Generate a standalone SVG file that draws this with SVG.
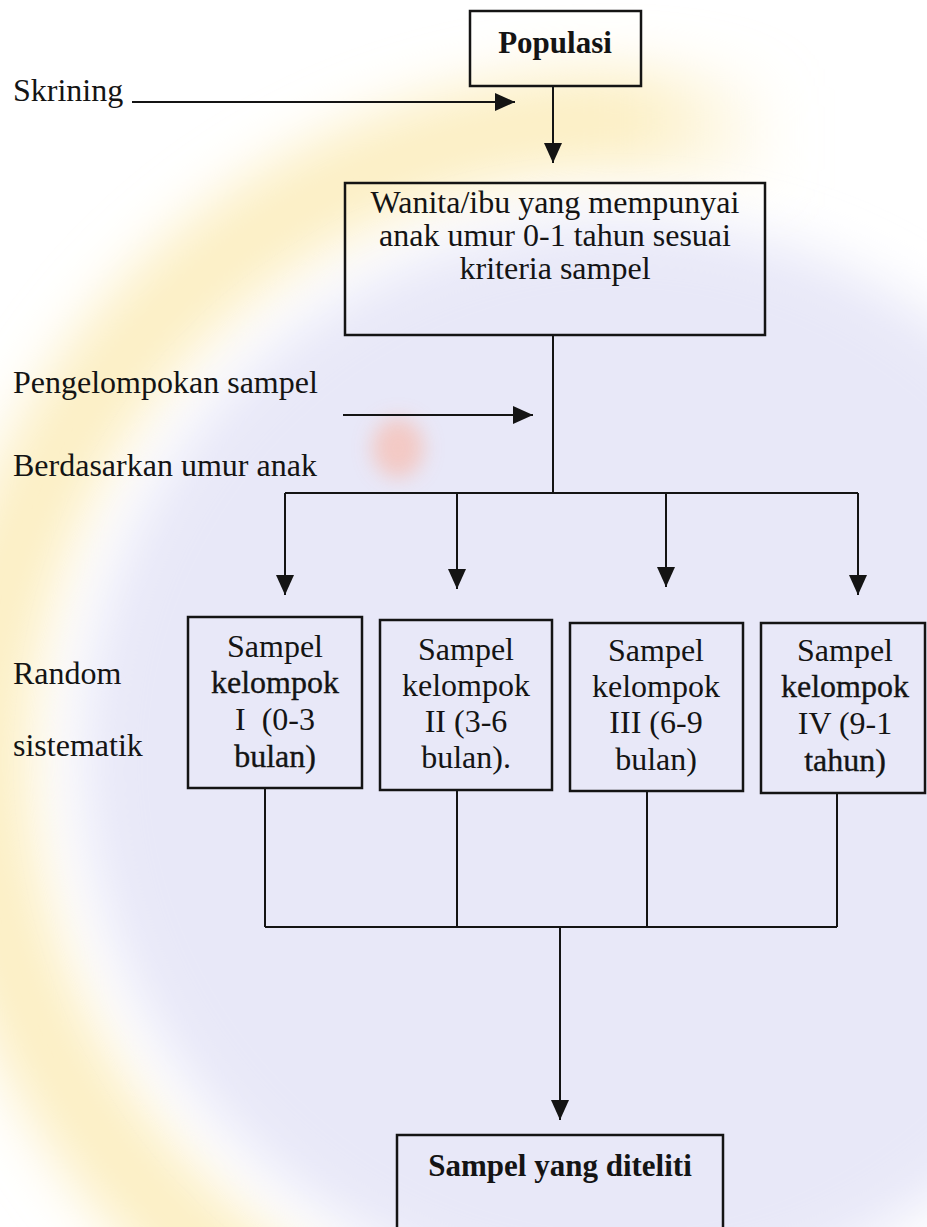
<svg xmlns="http://www.w3.org/2000/svg" width="927" height="1227" viewBox="0 0 927 1227">
<defs>
<style>
.t{font-family:"Liberation Serif","Times New Roman",serif;font-size:32px;fill:#141414;}
.c{text-anchor:middle;}
.b{font-weight:bold;font-size:31px;}
.dk{stroke:#141414;stroke-width:0.35px;}
.box{fill:none;stroke:#141414;stroke-width:2.5;}
.ln{fill:none;stroke:#141414;stroke-width:2;}
</style>
<marker id="ah" markerUnits="userSpaceOnUse" markerWidth="20" markerHeight="20" refX="20" refY="9" orient="auto">
<path d="M0,0 L20,9 L0,18 Z" fill="#141414"/>
</marker>
<linearGradient id="yl" gradientUnits="userSpaceOnUse" x1="0" y1="0" x2="927" y2="0">
<stop offset="0" stop-color="#fcefc4"/>
<stop offset="0.68" stop-color="#fcefc4"/>
<stop offset="0.85" stop-color="#fcefc4" stop-opacity="0"/>
<stop offset="1" stop-color="#fcefc4" stop-opacity="0"/>
</linearGradient>
<filter id="soft" filterUnits="userSpaceOnUse" x="-300" y="-300" width="1527" height="1827">
<feGaussianBlur stdDeviation="28"/>
</filter>
<filter id="soft2" filterUnits="userSpaceOnUse" x="300" y="350" width="200" height="200">
<feGaussianBlur stdDeviation="10"/>
</filter>
</defs>
<rect width="927" height="1227" fill="#ffffff"/>
<g id="watermark">
<circle cx="620" cy="760" r="640" fill="none" stroke="url(#yl)" stroke-width="100" filter="url(#soft)"/>
<circle cx="620" cy="760" r="540" fill="#e8e8f8" filter="url(#soft)"/>
<ellipse cx="398" cy="448" rx="26" ry="30" fill="#f5c4bc" opacity="0.85" filter="url(#soft2)"/>
</g>
<g id="connectors">
<path class="ln" d="M132,102 H515" marker-end="url(#ah)"/>
<path class="ln" d="M553,86 V163" marker-end="url(#ah)"/>
<path class="ln" d="M553,335 V493"/>
<path class="ln" d="M285,493 H858"/>
<path class="ln" d="M343,415 H533" marker-end="url(#ah)"/>
<path class="ln" d="M285,493 V595" marker-end="url(#ah)"/>
<path class="ln" d="M457,493 V589" marker-end="url(#ah)"/>
<path class="ln" d="M666,493 V587" marker-end="url(#ah)"/>
<path class="ln" d="M858,493 V595" marker-end="url(#ah)"/>
<path class="ln" d="M265,788 V927"/>
<path class="ln" d="M457,790 V927"/>
<path class="ln" d="M647,791 V927"/>
<path class="ln" d="M837,793 V927"/>
<path class="ln" d="M265,927 H837"/>
<path class="ln" d="M560,927 V1120" marker-end="url(#ah)"/>
</g>
<g id="labels">
<text class="t" x="13" y="101">Skrining</text>
<text class="t" x="13" y="393">Pengelompokan sampel</text>
<text class="t" x="13" y="476">Berdasarkan umur anak</text>
<text class="t" x="13" y="684">Random</text>
<text class="t" x="13" y="756">sistematik</text>
</g>
<g id="populasi">
<rect class="box" x="470" y="11" width="171" height="75"/>
<text class="t c b" x="555" y="53">Populasi</text>
</g>
<g id="wanita">
<rect class="box" x="345" y="183" width="420" height="152"/>
<text class="t c" x="555" y="213">Wanita/ibu yang mempunyai</text>
<text class="t c" x="555" y="246">anak umur 0-1 tahun sesuai</text>
<text class="t c" x="555" y="279">kriteria sampel</text>
</g>
<g id="kelompok1">
<rect class="box" x="188" y="617" width="174" height="171"/>
<text class="t c" x="275" y="657">Sampel</text>
<text class="t c dk" x="275" y="693">kelompok</text>
<text class="t c" x="275" y="730">I&#160; (0-3</text>
<text class="t c dk" x="275" y="767">bulan)</text>
</g>
<g id="kelompok2">
<rect class="box" x="380" y="620" width="172" height="170"/>
<text class="t c" x="466" y="660">Sampel</text>
<text class="t c" x="466" y="696">kelompok</text>
<text class="t c" x="466" y="732">II (3-6</text>
<text class="t c" x="466" y="768">bulan).</text>
</g>
<g id="kelompok3">
<rect class="box" x="570" y="623" width="173" height="168"/>
<text class="t c" x="656" y="661">Sampel</text>
<text class="t c" x="656" y="697">kelompok</text>
<text class="t c" x="656" y="733">III (6-9</text>
<text class="t c" x="656" y="770">bulan)</text>
</g>
<g id="kelompok4">
<rect class="box" x="761" y="623" width="164" height="170"/>
<text class="t c" x="845" y="661">Sampel</text>
<text class="t c dk" x="845" y="697">kelompok</text>
<text class="t c" x="845" y="734">IV (9-1</text>
<text class="t c dk" x="845" y="771">tahun)</text>
</g>
<g id="diteliti">
<rect class="box" x="397" y="1135" width="326" height="110"/>
<text class="t c b" x="560" y="1176">Sampel yang diteliti</text>
</g>
</svg>
